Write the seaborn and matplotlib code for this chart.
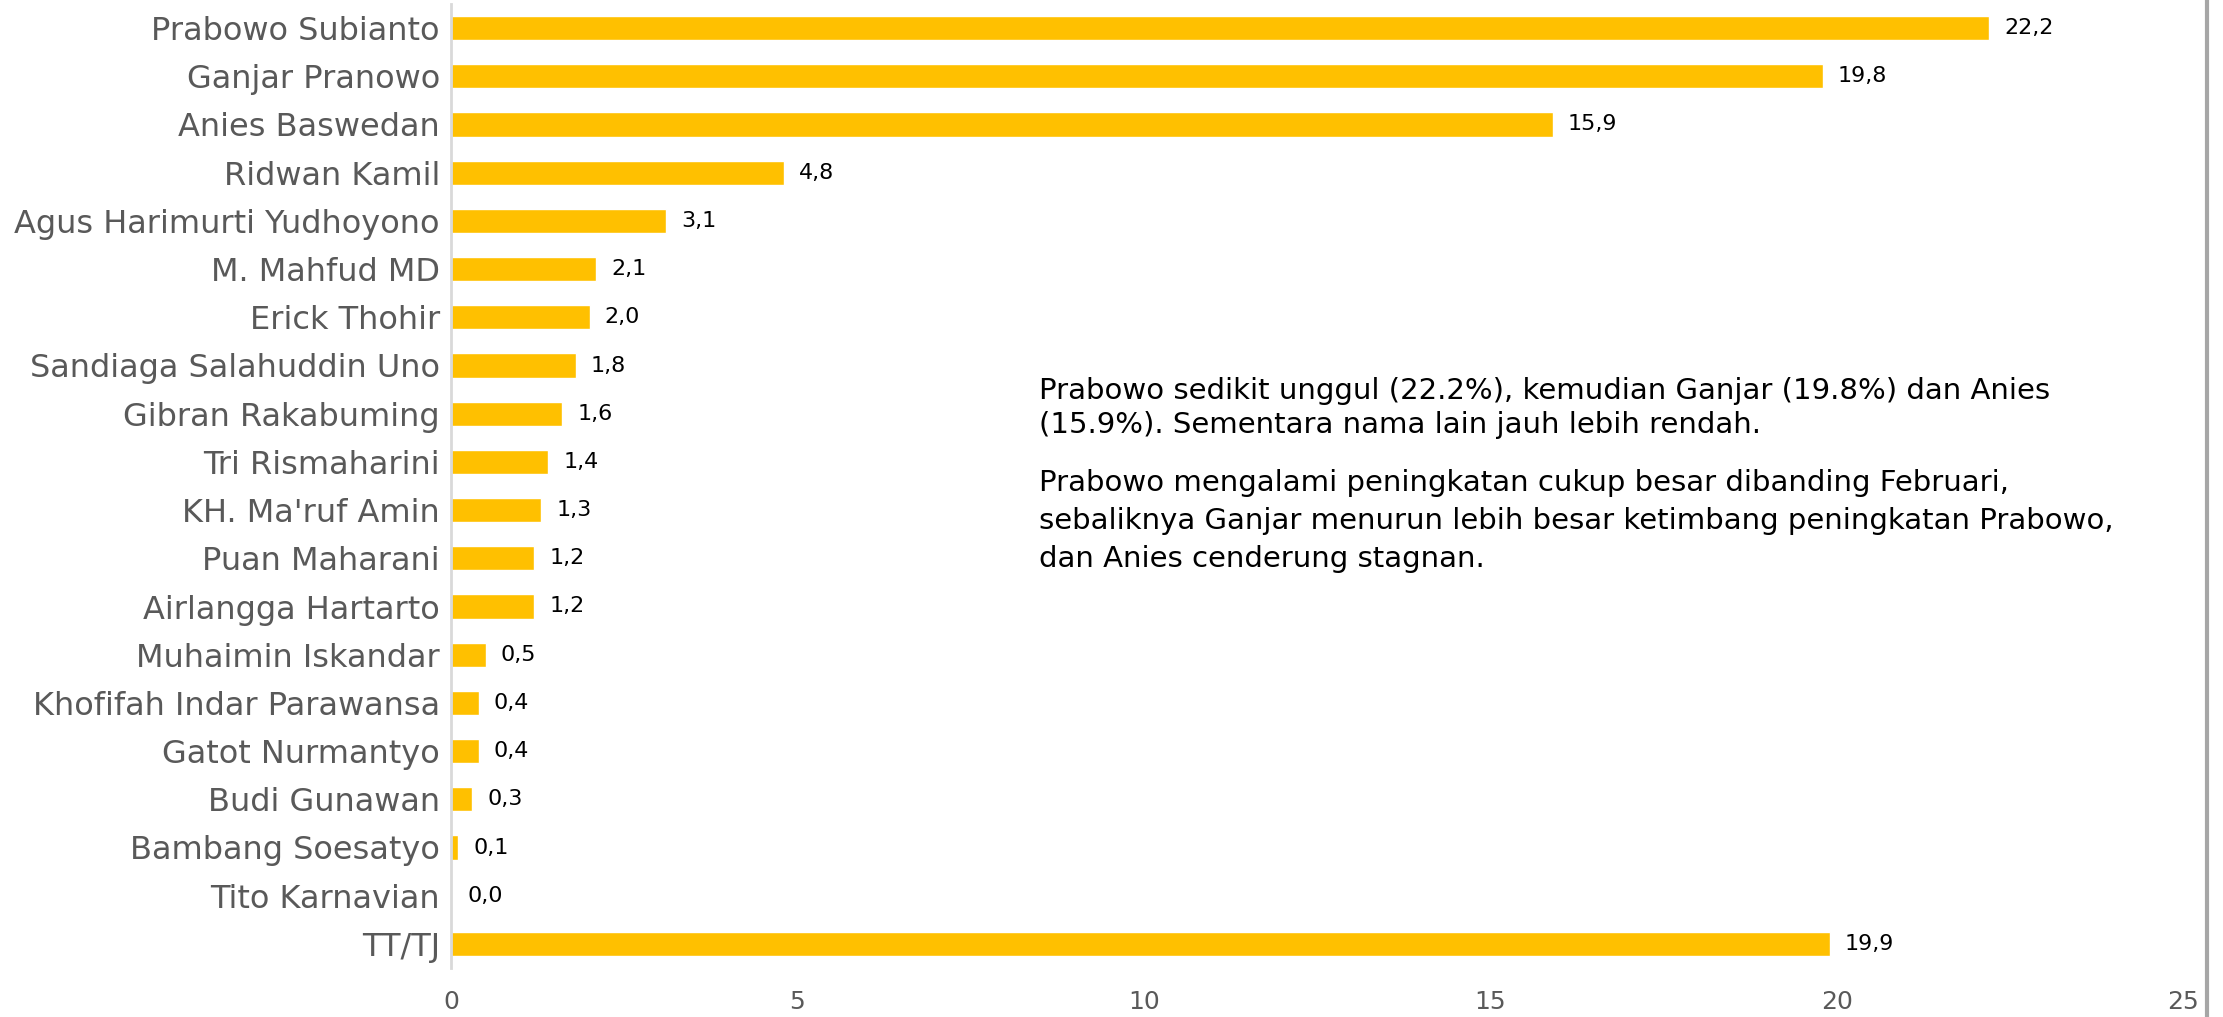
import matplotlib
matplotlib.use("Agg")
import matplotlib.pyplot as plt
import seaborn as sns
import pandas as pd
from matplotlib.lines import Line2D

names = ["Prabowo Subianto", "Ganjar Pranowo", "Anies Baswedan", "Ridwan Kamil",
         "Agus Harimurti Yudhoyono", "M. Mahfud MD", "Erick Thohir",
         "Sandiaga Salahuddin Uno", "Gibran Rakabuming", "Tri Rismaharini",
         "KH. Ma'ruf Amin", "Puan Maharani", "Airlangga Hartarto",
         "Muhaimin Iskandar", "Khofifah Indar Parawansa", "Gatot Nurmantyo",
         "Budi Gunawan", "Bambang Soesatyo", "Tito Karnavian", "TT/TJ"]
values = [22.2, 19.8, 15.9, 4.8, 3.1, 2.1, 2.0, 1.8, 1.6, 1.4, 1.3, 1.2, 1.2,
          0.5, 0.4, 0.4, 0.3, 0.1, 0.02, 19.9]
labels = ["22,2", "19,8", "15,9", "4,8", "3,1", "2,1", "2,0", "1,8", "1,6", "1,4",
          "1,3", "1,2", "1,2", "0,5", "0,4", "0,4", "0,3", "0,1", "0,0", "19,9"]
xticks = [0, 5, 10, 15, 20, 25]
note_p1 = ("Prabowo sedikit unggul (22.2%), kemudian Ganjar (19.8%) dan Anies\n"
           "(15.9%). Sementara nama lain jauh lebih rendah.")
note_p2 = ("Prabowo mengalami peningkatan cukup besar dibanding Februari,\n"
           "sebaliknya Ganjar menurun lebih besar ketimbang peningkatan Prabowo,\n"
           "dan Anies cenderung stagnan.")

df = pd.DataFrame({"name": names, "value": values})

sns.set_theme(style="white")
plt.rcParams["font.family"] = ["DejaVu Sans"]

fig = plt.figure(figsize=(22.23, 10.17), dpi=100)
ax = fig.add_axes([451/2223, 1 - 968/1017, (2183 - 451)/2223, (968 - 4)/1017])

sns.barplot(data=df, x="value", y="name", color="#FFC000", width=0.5,
            saturation=1, ax=ax, orient="h")

for i, (v, lab) in enumerate(zip(values, labels)):
    ax.text(v + 0.22, i, lab, va="center", ha="left", fontsize=16, color="#000000")

ax.set_xlim(0, 25)
ax.set_xticks(xticks)
ax.set_xticklabels([str(t) for t in xticks], fontsize=18, color="#595959")
ax.tick_params(axis="y", labelsize=23, colors="#595959", length=0, pad=8)
ax.tick_params(axis="x", length=0, pad=16)
ax.set_xlabel("")
ax.set_ylabel("")
for s in ["top", "right", "bottom"]:
    ax.spines[s].set_visible(False)
ax.spines["left"].set_color("#D9D9D9")
ax.spines["left"].set_linewidth(2)

fig.text(1039/2223, 1 - 408/1017, note_p1, fontsize=21, color="#000000",
         va="center", ha="left", linespacing=1.28)
fig.text(1039/2223, 1 - 521/1017, note_p2, fontsize=21, color="#000000",
         va="center", ha="left", linespacing=1.45)

fig.add_artist(Line2D([2207/2223, 2207/2223], [0, 1], color="#A6A6A6", lw=3,
                      transform=fig.transFigure))

fig.savefig("out.png", dpi=100)
